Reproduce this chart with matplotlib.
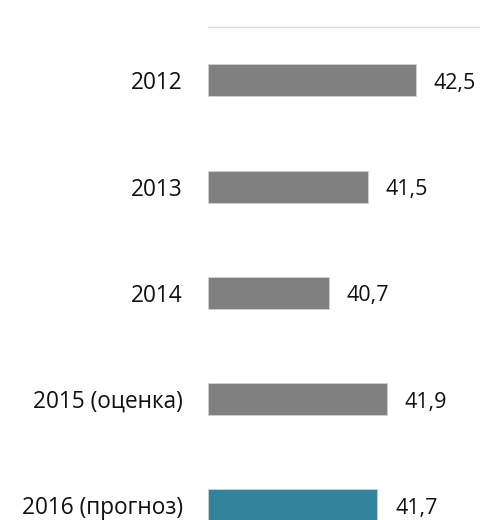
import matplotlib
matplotlib.use("Agg")
import matplotlib.pyplot as plt

categories = ["2012", "2013", "2014", "2015 (оценка)", "2016 (прогноз)"]
values = [42.5, 41.5, 40.7, 41.9, 41.7]
labels = ["42,5", "41,5", "40,7", "41,9", "41,7"]
colors = ["#808080", "#808080", "#808080", "#808080", "#31849B"]

plt.rcParams['font.family'] = ['Open Sans', 'DejaVu Sans']

W, H = 481, 520
fig = plt.figure(figsize=(W / 100, H / 100), dpi=100)
top = 27.3
bottom = 558.5
left = 208.3
right = 480.5
ax = fig.add_axes([left / W, 1 - bottom / H, (right - left) / W, (bottom - top) / H])

y = list(range(len(categories)))
xmin = 38.21
px_per_unit = 48.4
xmax = xmin + (right - left) / px_per_unit
ax.barh(y, [v - xmin for v in values], left=xmin, height=0.30, color=colors,
        edgecolor="#d0d0d0", linewidth=0.6)
ax.set_xlim(xmin, xmax)
ax.set_ylim(len(categories) - 0.5, -0.5)

for yi, v, lab in zip(y, values, labels):
    ax.annotate(lab, (v, yi), xytext=(18, -3), textcoords="offset pixels",
                ha="left", va="center", fontsize=15.5, color="#111111")

ax.set_yticks(y)
ax.set_yticklabels(categories, fontsize=16.3, color="#111111")
ax.tick_params(axis="y", length=0, pad=18.5)
ax.set_xticks([])
for s in ["left", "right", "bottom"]:
    ax.spines[s].set_visible(False)
ax.spines["top"].set_color("#d9d9d9")
ax.spines["top"].set_linewidth(1.0)

fig.savefig("out.png", dpi=100)
